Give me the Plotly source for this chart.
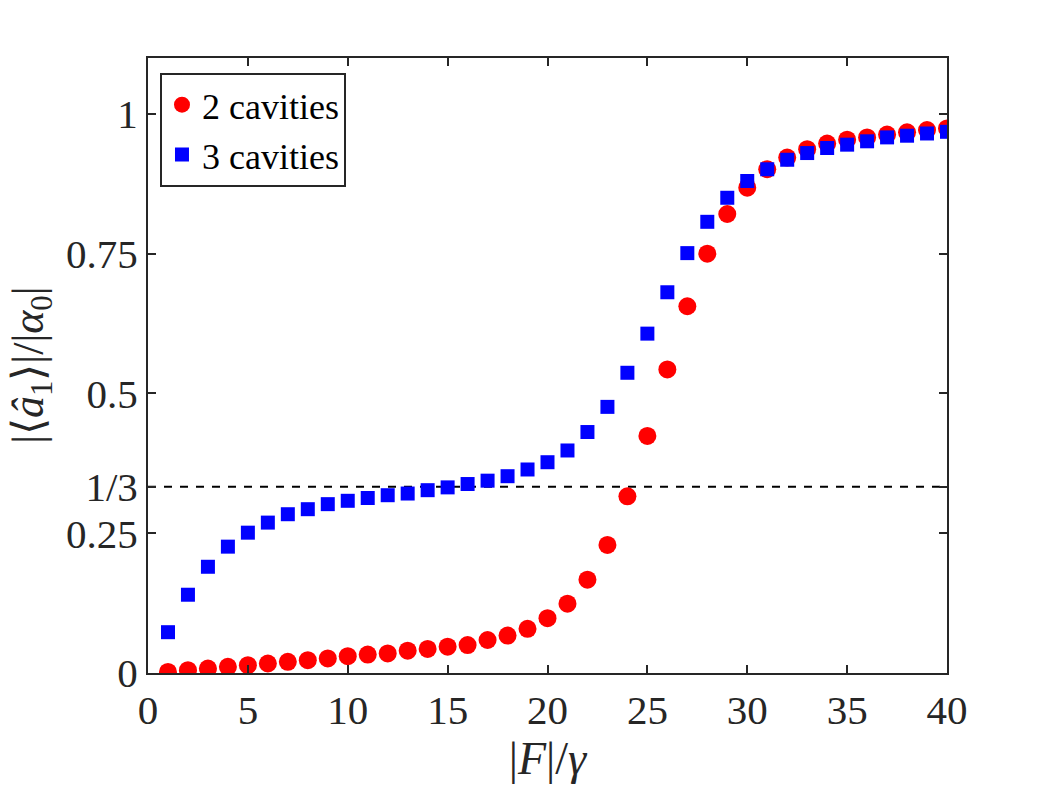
import plotly.graph_objects as go

# =========================
# DATA
# =========================

drive = [1, 2, 3, 4, 5, 6, 7, 8, 9, 10,
         11, 12, 13, 14, 15, 16, 17, 18, 19, 20,
         21, 22, 23, 24, 25, 26, 27, 28, 29, 30,
         31, 32, 33, 34, 35, 36, 37, 38, 39, 40]

two_cavities = [0.002, 0.005, 0.008, 0.011, 0.014, 0.017, 0.020, 0.023, 0.026, 0.030,
                0.033, 0.035, 0.040, 0.043, 0.047, 0.050, 0.059, 0.067, 0.079, 0.098,
                0.124, 0.167, 0.229, 0.316, 0.424, 0.543, 0.656, 0.750, 0.821, 0.868,
                0.901, 0.922, 0.937, 0.947, 0.954, 0.958, 0.963, 0.967, 0.971, 0.974]

three_cavities = [0.073, 0.140, 0.190, 0.226, 0.251, 0.269, 0.284, 0.293, 0.302, 0.308,
                  0.313, 0.318, 0.321, 0.327, 0.332, 0.338, 0.344, 0.352, 0.364, 0.377,
                  0.398, 0.431, 0.476, 0.537, 0.607, 0.681, 0.751, 0.807, 0.850, 0.880,
                  0.901, 0.918, 0.930, 0.939, 0.945, 0.951, 0.958, 0.961, 0.965, 0.968]

x_ticks = [0, 5, 10, 15, 20, 25, 30, 35, 40]
y_ticks = [0, 0.25, 1 / 3, 0.5, 0.75, 1]
y_tick_text = ["0", "0.25", "1/3", "0.5", "0.75", "1"]

third_level = 1 / 3
x_range = [0, 40]
y_range = [0, 1.1]

# =========================
# THEME
# =========================

AXIS_COLOR = "#262626"
SERIF = "Liberation Serif, Times New Roman, serif"

# =========================
# FIGURE
# =========================

fig = go.Figure()

fig.add_trace(
    go.Scatter(
        x=x_range,
        y=[third_level, third_level],
        mode="lines",
        line=dict(color="black", width=2, dash="8px,8px"),
        showlegend=False,
        hoverinfo="skip"
    )
)

fig.add_trace(
    go.Scatter(
        x=drive,
        y=two_cavities,
        mode="markers",
        name="2 cavities",
        marker=dict(symbol="circle", size=18, color="#FF0000")
    )
)

fig.add_trace(
    go.Scatter(
        x=drive,
        y=three_cavities,
        mode="markers",
        name="3 cavities",
        marker=dict(symbol="square", size=14, color="#0000FF")
    )
)

axis_common = dict(
    showline=True,
    linecolor=AXIS_COLOR,
    linewidth=2,
    mirror="ticks",
    ticks="inside",
    ticklen=8,
    tickwidth=2,
    tickcolor=AXIS_COLOR,
    showgrid=False,
    zeroline=False,
    tickfont=dict(family=SERIF, size=41, color=AXIS_COLOR)
)

# page body adds an 8px offset, so margins are shifted to keep the plot box in place
fig.update_layout(
    width=1049,
    height=795,
    template="simple_white",
    plot_bgcolor="white",
    paper_bgcolor="white",
    margin=dict(l=140, r=110, t=50, b=130),
    xaxis=dict(
        axis_common,
        range=x_range,
        tickmode="array",
        tickvals=x_ticks,
        title=dict(
            text="|<i>F</i>|/<i>γ</i>",
            font=dict(family=SERIF, size=46, color=AXIS_COLOR),
            standoff=6
        )
    ),
    yaxis=dict(
        axis_common,
        range=y_range,
        tickmode="array",
        tickvals=y_ticks,
        ticktext=y_tick_text
    ),
    legend=dict(
        x=0.015,
        y=0.976,
        xanchor="left",
        yanchor="top",
        bgcolor="white",
        bordercolor=AXIS_COLOR,
        borderwidth=2,
        font=dict(family=SERIF, size=36, color="black"),
        tracegroupgap=0,
        itemwidth=30
    )
)

# y-axis title as a rotated annotation so it sits close to the left edge
fig.add_annotation(
    text="|⟨<i>â</i><sub>1</sub>⟩|/|<i>α</i><sub>0</sub>|",
    xref="paper",
    yref="paper",
    x=-0.146,
    y=0.5,
    xanchor="center",
    yanchor="middle",
    textangle=-90,
    showarrow=False,
    borderpad=0,
    font=dict(family=SERIF, size=44, color=AXIS_COLOR)
)

fig.write_html("out.html")
